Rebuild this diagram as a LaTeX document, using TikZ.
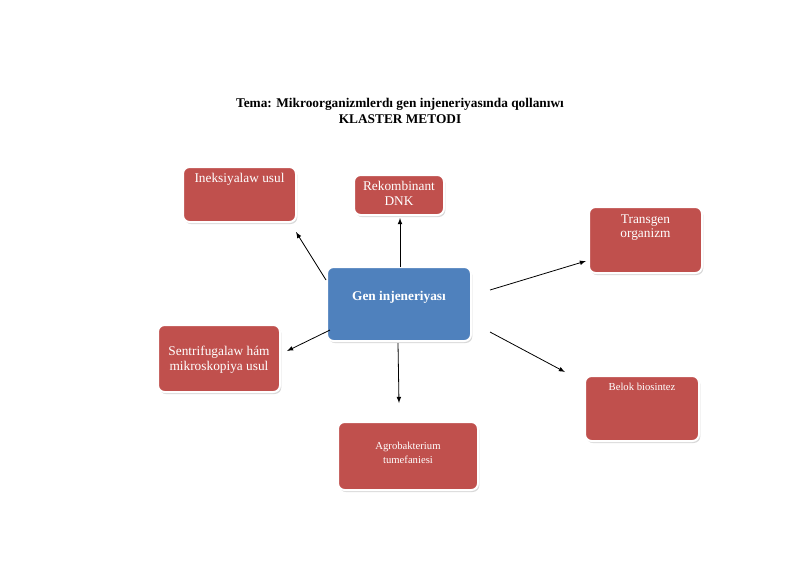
\documentclass[tikz,border=0pt]{standalone}
\usepackage{fontspec}
\setmainfont{Liberation Serif}
\usetikzlibrary{shadows}
\definecolor{rd}{HTML}{C0504D}
\definecolor{bl}{HTML}{4F81BD}
\begin{document}
\begin{tikzpicture}[x=0.75pt,y=-0.75pt,
  box/.style={draw=white,line width=1.5pt,rounded corners=5pt,fill=rd,drop shadow={shadow xshift=1pt,shadow yshift=-1.5pt,opacity=0.3}},
  txt/.style={text=white,align=center,font=\fontsize{10}{11}\selectfont,anchor=north,inner sep=0pt},
  arr/.style={-latex,line width=0.6pt}]
\useasboundingbox (0,0) rectangle (800,565);
\node[align=center,font=\bfseries\fontsize{10}{11.5}\selectfont] (title) at (400,111) {Tema: Mikroorganizmlerd\i{} gen injeneriyas\i nda qollan\i w\i\\KLASTER METODI};
\draw[box] (183,167) rectangle (296,222);
\node[txt] (a) at (239.5,173) {Ineksiyalaw usul};
\draw[box] (354,175) rectangle (444,215);
\node[txt] (b) at (399,181) {Rekombinant\\DNK};
\draw[box] (589,207) rectangle (702,273);
\node[txt] (c) at (645.5,214) {Transgen\\organizm};
\draw[box,fill=bl] (327,267) rectangle (471,341);
\node[txt,font=\bfseries\fontsize{10}{11}\selectfont] (g) at (399,291) {Gen injeneriyas\i};
\draw[box] (158,325) rectangle (280,392);
\node[txt] (d) at (219,346) {Sentrifugalaw h\'am\\mikroskopiya usul};
\draw[box] (585,376) rectangle (699,441);
\node[txt,font=\fontsize{8}{9}\selectfont] (e) at (642,383) {Belok biosintez};
\draw[box] (338,422) rectangle (478,490);
\node[txt,font=\fontsize{8}{10.5}\selectfont] (f) at (408,442) {Agrobakterium\\tumefaniesi};
\coordinate (g1) at (400,267); \coordinate (b1) at (400,218);
\coordinate (g2) at (326,280); \coordinate (a1) at (296,232);
\coordinate (g3) at (490,290); \coordinate (c1) at (586,261);
\coordinate (g4) at (490,332); \coordinate (e1) at (565,372);
\coordinate (g5) at (330,330); \coordinate (d1) at (287,351);
\coordinate (g6) at (398,343); \coordinate (f1) at (399,403);
\draw[arr] (g1) -- (b1);
\draw[arr] (g2) -- (a1);
\draw[arr] (g3) -- (c1);
\draw[arr] (g4) -- (e1);
\draw[arr] (g5) -- (d1);
\draw[arr] (g6) -- (f1);
\end{tikzpicture}
\end{document}
